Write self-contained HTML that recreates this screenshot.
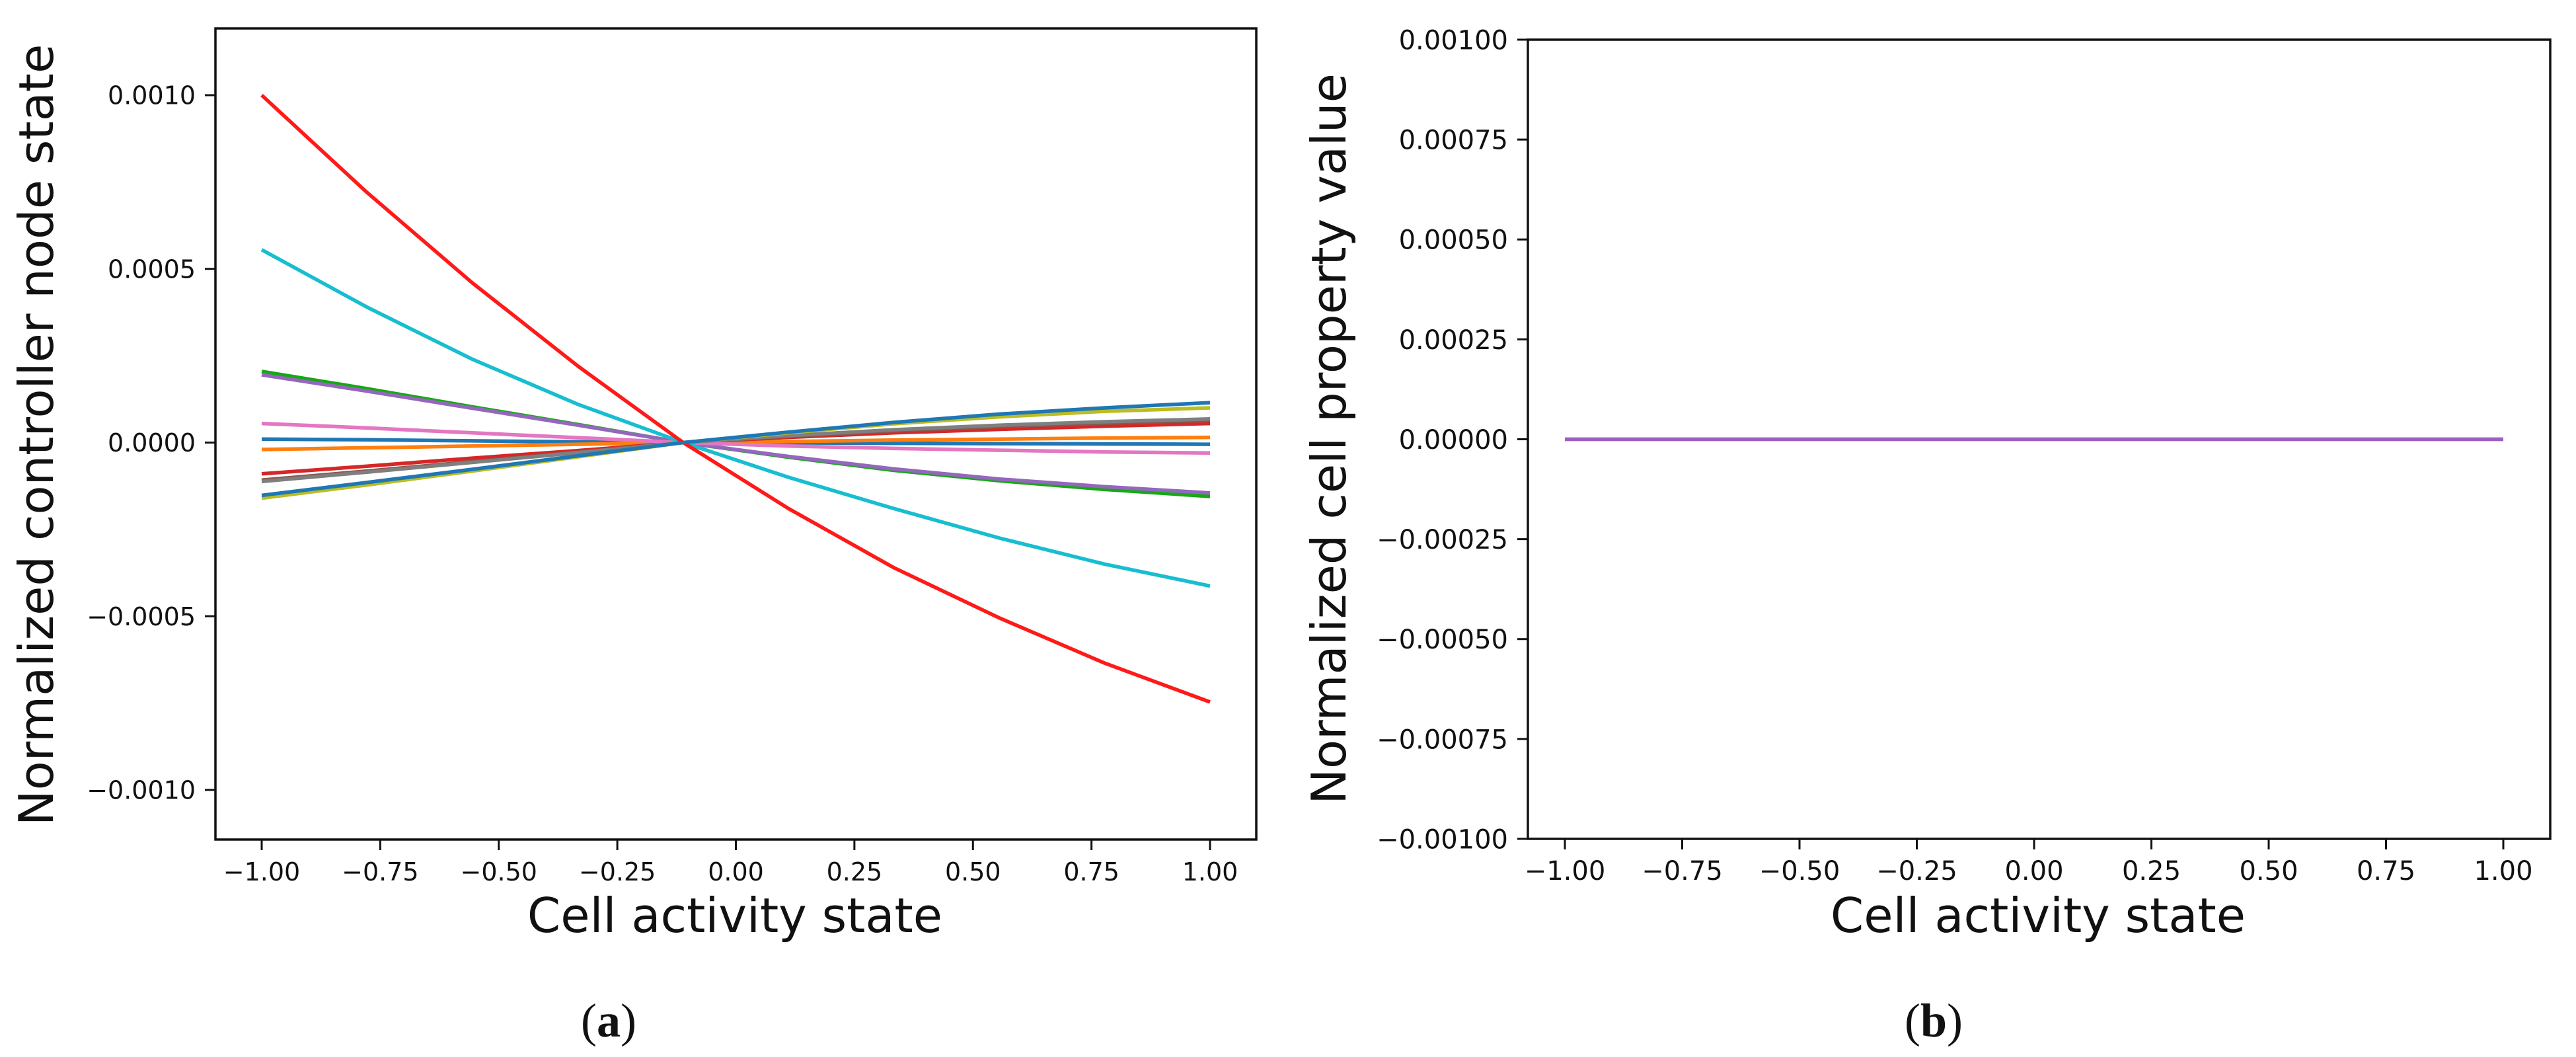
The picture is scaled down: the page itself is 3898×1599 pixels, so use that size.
<!DOCTYPE html>
<html><head><meta charset="utf-8"><style>
html,body{margin:0;padding:0;background:#fff;}
svg{display:block;}
text{font-family:"DejaVu Sans","Liberation Sans",sans-serif;fill:#111;}
.cap{font-family:"Liberation Serif",serif;}
</style></head><body>
<svg id="fig" width="3898" height="1599" viewBox="0 0 3898 1599" xmlns="http://www.w3.org/2000/svg">
<g id="pa"></g>
<g id="pb"></g>
<text class="cap" x="921" y="1568" font-size="72" text-anchor="middle">(<tspan font-weight="bold">a</tspan>)</text>
<text class="cap" x="2926" y="1568" font-size="72" text-anchor="middle">(<tspan font-weight="bold">b</tspan>)</text>
</svg>
<script>
const xs = [-1, -0.778, -0.556, -0.333, -0.111, 0.111, 0.333, 0.556, 0.778, 1];
const xTicks = [-1, -0.75, -0.5, -0.25, 0, 0.25, 0.5, 0.75, 1];
const xTickLabels = ["\u22121.00","\u22120.75","\u22120.50","\u22120.25","0.00","0.25","0.50","0.75","1.00"];
const yTicksA = [0.001, 0.0005, 0, -0.0005, -0.001];
const yTickLabelsA = ["0.0010","0.0005","0.0000","\u22120.0005","\u22120.0010"];
const yTicksB = [0.001, 0.00075, 0.0005, 0.00025, 0, -0.00025, -0.0005, -0.00075, -0.001];
const yTickLabelsB = ["0.00100","0.00075","0.00050","0.00025","0.00000","\u22120.00025","\u22120.00050","\u22120.00075","\u22120.00100"];
const seriesNames = ["blue","orange","green","red","purple","brown","pink","gray","olive","cyan","red-main","blue-2"];
const seriesColors = ["#1f77b4","#ff7f0e","#16a816","#d62728","#9467bd","#8c564b","#e377c2","#7f7f7f","#bcbd22","#17becf","#ff1a1a","#1f77b4"];
const sBlue    = [1.0e-5, 0.8e-5, 0.5e-5, 0.2e-5, 0, -0.1e-5, -0.2e-5, -0.3e-5, -0.4e-5, -0.5e-5];
const sOrange  = [-2.0e-5, -1.5e-5, -1.0e-5, -0.5e-5, 0, 0.3e-5, 0.7e-5, 1.0e-5, 1.3e-5, 1.5e-5];
const sGreen   = [2.05e-4, 1.55e-4, 1.03e-4, 0.52e-4, 0, -0.42e-4, -0.8e-4, -1.1e-4, -1.35e-4, -1.55e-4];
const sRed     = [-0.9e-4, -0.68e-4, -0.45e-4, -0.23e-4, 0, 0.15e-4, 0.28e-4, 0.38e-4, 0.47e-4, 0.55e-4];
const sPurple  = [1.95e-4, 1.48e-4, 0.99e-4, 0.5e-4, 0, -0.4e-4, -0.76e-4, -1.05e-4, -1.27e-4, -1.45e-4];
const sBrown   = [-1.08e-4, -0.82e-4, -0.55e-4, -0.28e-4, 0, 0.18e-4, 0.34e-4, 0.46e-4, 0.56e-4, 0.64e-4];
const sPink    = [0.55e-4, 0.42e-4, 0.28e-4, 0.14e-4, 0, -0.1e-4, -0.17e-4, -0.22e-4, -0.27e-4, -0.3e-4];
const sGray    = [-1.12e-4, -0.85e-4, -0.57e-4, -0.29e-4, 0, 0.2e-4, 0.37e-4, 0.5e-4, 0.6e-4, 0.68e-4];
const sOlive   = [-1.6e-4, -1.22e-4, -0.82e-4, -0.41e-4, 0, 0.28e-4, 0.54e-4, 0.74e-4, 0.9e-4, 1.0e-4];
const sCyan    = [5.55e-4, 3.9e-4, 2.4e-4, 1.1e-4, 0, -1.0e-4, -1.9e-4, -2.75e-4, -3.5e-4, -4.13e-4];
const sRedMain = [1.0e-3, 0.72e-3, 0.46e-3, 0.22e-3, 0, -0.19e-3, -0.36e-3, -0.505e-3, -0.635e-3, -0.747e-3];
const sBlue2   = [-1.52e-4, -1.15e-4, -0.77e-4, -0.38e-4, 0, 0.3e-4, 0.58e-4, 0.82e-4, 1.0e-4, 1.15e-4];
const seriesA = [sBlue, sOrange, sGreen, sRed, sPurple, sBrown, sPink, sGray, sOlive, sCyan, sRedMain, sBlue2];
const seriesB = [[0,0,0,0,0,0,0,0,0,0],[0,0,0,0,0,0,0,0,0,0]];
const seriesBColors = ["#e377c2","#9b5fc0"];

const NS = "http://www.w3.org/2000/svg";
function mk(parent, tag, attrs){ const e=document.createElementNS(NS,tag); for(const k in attrs) e.setAttribute(k,attrs[k]); parent.appendChild(e); return e; }

function panel(g, cfg){
  const sx = v => cfg.x0 + (v - (-1)) * (cfg.x1 - cfg.x0) / 2;
  const sy = v => cfg.yz - v * cfg.yk;
  const plot = mk(g,"g",{});
  
  
  cfg.series.forEach((s,i)=>{
    const d = s.map((v,j)=>(j?"L":"M")+sx(xs[j]).toFixed(1)+" "+sy(v).toFixed(1)).join(" ");
    const p = mk(plot,"path",{d:d,fill:"none",stroke:cfg.colors[i],"stroke-width":5.5,"stroke-linejoin":"round"});
    
    
  });
  const fr = mk(g,"rect",{x:cfg.L,y:cfg.T,width:cfg.R-cfg.L,height:cfg.B-cfg.T,fill:"none",stroke:"#111","stroke-width":3.5});
  
  
  const xa = mk(g,"g",{});
  
  
  xTicks.forEach((t,i)=>{
    const x=sx(t);
    mk(xa,"line",{x1:x,x2:x,y1:cfg.B,y2:cfg.B+16,stroke:"#111","stroke-width":3});
    const tx=mk(xa,"text",{x:x,y:cfg.B+62,"font-size":cfg.fs,"text-anchor":"middle"});
    tx.textContent=xTickLabels[i];
    
    
  });
  const ya = mk(g,"g",{});
  
  
  cfg.yticks.forEach((t,i)=>{
    const y=sy(t);
    mk(ya,"line",{x1:cfg.L-16,x2:cfg.L,y1:y,y2:y,stroke:"#111","stroke-width":3});
    const tx=mk(ya,"text",{x:cfg.L-30,y:y+cfg.fs*0.36,"font-size":cfg.fs,"text-anchor":"end"});
    tx.textContent=cfg.ylabels[i];
    
    
  });
  const xl=mk(g,"text",{x:cfg.xlx,y:1410,"font-size":72,"text-anchor":"middle"});
  xl.textContent="Cell activity state";
  
  
  const yl=mk(g,"text",{x:0,y:0,"font-size":72,"text-anchor":"middle",transform:"translate("+cfg.ylx+","+cfg.yly+") rotate(-90)"});
  yl.textContent=cfg.ytitle;
  
  
}

panel(document.getElementById("pa"),{id:"panel-a",L:326,R:1901,T:43,B:1270,x0:396,x1:1831,yz:669.5,yk:525500,
  series:seriesA,colors:seriesColors,names:seriesNames,yticks:yTicksA,ylabels:yTickLabelsA,fs:38,
  xlx:1112,ylx:80,yly:658,ytitle:"Normalized controller node state"});
panel(document.getElementById("pb"),{id:"panel-b",L:2312,R:3859,T:60,B:1269,x0:2368,x1:3788,yz:664.5,yk:604500,
  series:seriesB,colors:seriesBColors,yticks:yTicksB,ylabels:yTickLabelsB,fs:40,
  xlx:3084,ylx:2036,yly:664,ytitle:"Normalized cell property value"});
</script>
</body></html>
